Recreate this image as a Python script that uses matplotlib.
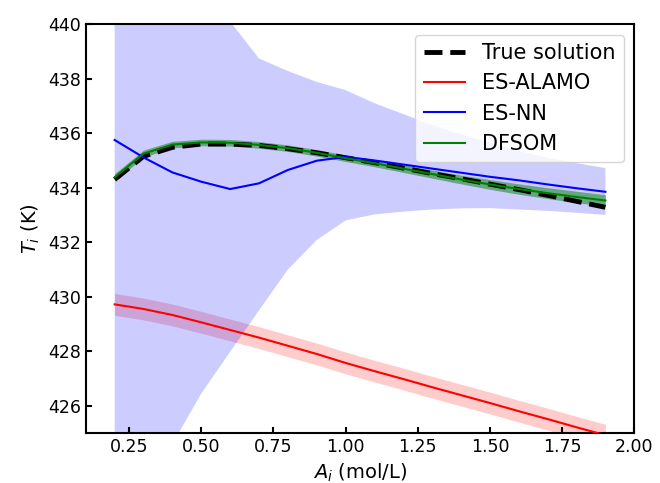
import numpy as np
import matplotlib
matplotlib.use("Agg")
import matplotlib.pyplot as plt

x = [0.2, 0.3, 0.4, 0.5, 0.6, 0.7, 0.8, 0.9, 1.0, 1.1, 1.2, 1.3, 1.4, 1.5, 1.6, 1.7, 1.8, 1.9]

true_T = [434.30, 435.15, 435.48, 435.60, 435.60, 435.55, 435.43, 435.28, 435.10,
          434.92, 434.72, 434.52, 434.33, 434.13, 433.93, 433.72, 433.50, 433.28]

alamo_T = [429.72, 429.55, 429.33, 429.06, 428.78, 428.50, 428.20, 427.90, 427.57,
           427.27, 426.98, 426.68, 426.39, 426.10, 425.80, 425.51, 425.21, 424.92]
alamo_lo = [429.32, 429.15, 428.93, 428.66, 428.38, 428.10, 427.80, 427.50, 427.17,
            426.87, 426.58, 426.28, 425.99, 425.70, 425.40, 425.11, 424.81, 424.52]
alamo_hi = [430.12, 429.95, 429.73, 429.46, 429.18, 428.90, 428.60, 428.30, 427.97,
            427.67, 427.38, 427.08, 426.79, 426.50, 426.20, 425.91, 425.61, 425.32]

nn_T = [435.75, 435.11, 434.56, 434.22, 433.95, 434.16, 434.65, 434.99, 435.13,
        435.00, 434.85, 434.70, 434.55, 434.40, 434.27, 434.12, 433.98, 433.85]
nn_lo = [419.0, 421.5, 424.6, 426.45, 427.98, 429.50, 431.00, 432.08, 432.80,
         433.02, 433.12, 433.20, 433.24, 433.25, 433.20, 433.15, 433.08, 433.00]
nn_hi = [447.0, 445.0, 443.0, 441.5, 440.10, 438.74, 438.28, 437.88, 437.58,
         437.10, 436.70, 436.30, 435.95, 435.65, 435.35, 435.10, 434.90, 434.72]

dfsom_T = [434.38, 435.25, 435.58, 435.66, 435.65, 435.57, 435.45, 435.28, 435.08,
           434.90, 434.70, 434.50, 434.30, 434.12, 433.95, 433.80, 433.66, 433.53]
dfsom_lo = [434.24, 435.12, 435.46, 435.54, 435.53, 435.45, 435.33, 435.16, 434.96,
            434.77, 434.56, 434.35, 434.14, 433.94, 433.76, 433.60, 433.45, 433.32]
dfsom_hi = [434.52, 435.38, 435.70, 435.78, 435.77, 435.69, 435.57, 435.40, 435.20,
            435.03, 434.84, 434.65, 434.46, 434.30, 434.14, 434.00, 433.87, 433.74]

fig = plt.figure(figsize=(6.6, 4.83), dpi=100)
ax = fig.add_axes([0.130, 0.1035, 0.831, 0.8465])

ax.fill_between(x, alamo_lo, alamo_hi, color="red", alpha=0.2, linewidth=0, zorder=1)
ax.fill_between(x, nn_lo, nn_hi, color="blue", alpha=0.2, linewidth=0, zorder=1)
ax.fill_between(x, dfsom_lo, dfsom_hi, color="green", alpha=0.5, linewidth=0, zorder=1.5)
ax.plot(x, true_T, color="black", linestyle="--", linewidth=3.5, label="True solution", zorder=2)
ax.plot(x, alamo_T, color="red", linewidth=1.5, label="ES-ALAMO", zorder=3)
ax.plot(x, nn_T, color="blue", linewidth=1.5, label="ES-NN", zorder=3)
ax.plot(x, dfsom_T, color="green", linewidth=1.5, label="DFSOM", zorder=3)

ax.set_xlim(0.1, 2.0)
ax.set_ylim(425, 440)
ax.set_xticks([0.25, 0.5, 0.75, 1.0, 1.25, 1.5, 1.75, 2.0])
ax.set_xticklabels(["0.25", "0.50", "0.75", "1.00", "1.25", "1.50", "1.75", "2.00"])
ax.set_yticks([426, 428, 430, 432, 434, 436, 438, 440])
ax.tick_params(direction="in", length=4, width=1.5, labelsize=12.5)
for s in ax.spines.values():
    s.set_linewidth(1.5)
ax.set_xlabel(r"$A_i$ (mol/L)", fontsize=14)
ax.set_ylabel(r"$T_i$ (K)", fontsize=14)
ax.legend(loc="upper right", fontsize=15)

fig.savefig("out.png", dpi=100)
